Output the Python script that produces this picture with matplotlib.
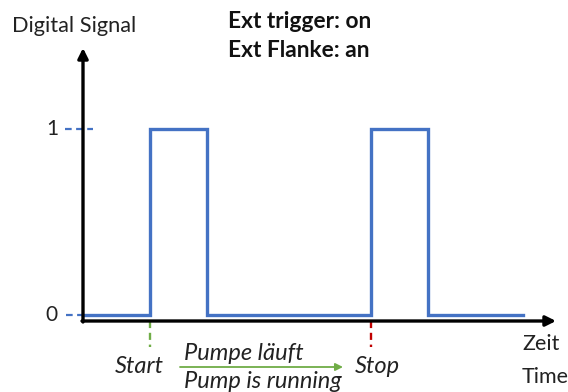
import matplotlib.pyplot as plt

plt.rcParams['font.family'] = ['Lato', 'DejaVu Sans']

# signal edges (time units) and levels
edge_times = [0, 1.18, 1.18, 2.18, 2.18, 5.05, 5.05, 6.05, 6.05, 7.72]
levels = [0, 0, 1, 1, 0, 0, 1, 1, 0, 0]
start_time = 1.18
stop_time = 5.05
tick_levels = [0, 1]
tick_labels = ['0', '1']

blue = '#4472C4'
green = '#70AD47'
red = '#C00000'
ink = '#222222'


# helpers to place annotations at pixel positions of the 568x392 canvas
def tx(px):
    return (px - 83) / 57.0


def ly(py):
    return (315 - py) / 186.0


fig = plt.figure(figsize=(5.68, 3.92), dpi=100)
ax = fig.add_axes([0, 0, 1, 1])
ax.set_xlim(tx(0), tx(568))
ax.set_ylim(ly(392), ly(0))
ax.axis('off')

axis_y = ly(321)

# axes with arrow heads
ax.annotate('', xy=(tx(556), axis_y), xytext=(tx(82), axis_y),
            arrowprops=dict(arrowstyle='-|>', lw=2.4, color='black',
                            mutation_scale=15, shrinkA=0, shrinkB=0))
ax.annotate('', xy=(0, ly(48)), xytext=(0, ly(322)),
            arrowprops=dict(arrowstyle='-|>', lw=2.4, color='black',
                            mutation_scale=15, shrinkA=0, shrinkB=0))

# signal
ax.plot(edge_times, levels, color=blue, lw=2.4, solid_joinstyle='miter')

# level ticks
ax.plot([tx(65), tx(93)], [1, 1], color=blue, lw=1.6, ls=(0, (3, 2)))
ax.plot([tx(66), tx(83)], [0, 0], color=blue, lw=1.6, ls=(0, (3, 2)))
for lv, lab in zip(tick_levels, tick_labels):
    ax.text(tx(58), lv, lab, ha='right', va='center', fontsize=15, color=ink)

# start / stop markers
ax.plot([start_time, start_time], [axis_y, ly(347)], color=green, lw=1.7, ls=(0, (3, 2)))
ax.plot([stop_time, stop_time], [axis_y, ly(347)], color=red, lw=1.7, ls=(0, (3, 2)))
ax.text(tx(115), ly(373), 'Start', ha='left', va='baseline',
        fontsize=17, style='italic', color=ink)
ax.text(tx(355), ly(373), 'Stop', ha='left', va='baseline',
        fontsize=17, style='italic', color=ink)
ax.annotate('', xy=(tx(343), ly(367)), xytext=(tx(180), ly(367)),
            arrowprops=dict(arrowstyle='-|>', lw=1.3, color=green,
                            mutation_scale=11, shrinkA=0, shrinkB=0))
ax.text(tx(184), ly(360), 'Pumpe läuft', ha='left', va='baseline',
        fontsize=17, style='italic', color=ink)
ax.text(tx(184), ly(388), 'Pump is running', ha='left', va='baseline',
        fontsize=17, style='italic', color=ink)

# labels
ax.text(tx(522), ly(350), 'Zeit', ha='left', va='baseline', fontsize=15.5, color=ink)
ax.text(tx(522), ly(383), 'Time', ha='left', va='baseline', fontsize=15.5, color=ink)
ax.text(tx(12), ly(32), 'Digital Signal', ha='left', va='baseline', fontsize=15.7, color=ink)
ax.text(tx(228), ly(28), 'Ext trigger: on', ha='left', va='baseline',
        fontsize=16.4, fontweight='bold', color='#111111')
ax.text(tx(228), ly(57), 'Ext Flanke: an', ha='left', va='baseline',
        fontsize=16.4, fontweight='bold', color='#111111')

fig.savefig('out.png', dpi=100)
